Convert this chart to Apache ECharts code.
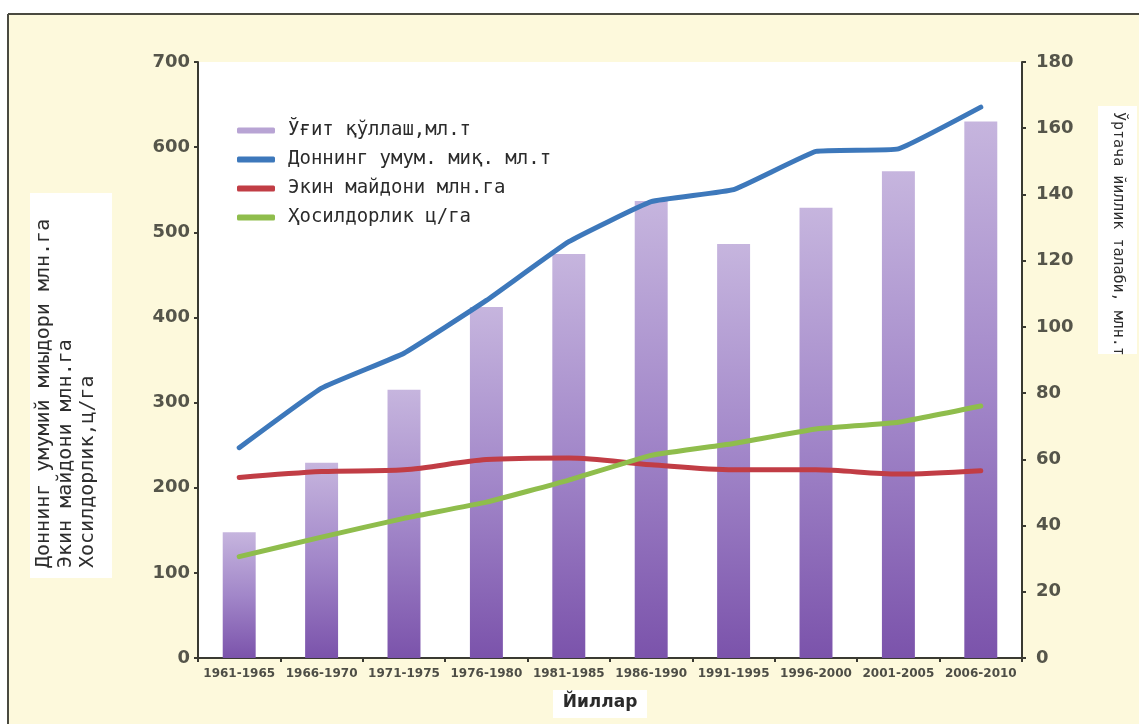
<!DOCTYPE html>
<html>
<head>
<meta charset="utf-8">
<style>
  html, body { margin: 0; padding: 0; background: #ffffff; }
  #chart { width: 1139px; height: 724px; }
</style>
<script src="https://cdn.jsdelivr.net/npm/echarts@6/dist/echarts.min.js"></script>
</head>
<body>
<div id="chart"></div>
<script>
// Five-year periods along the x axis
const categories = ['1961-1965', '1966-1970', '1971-1975', '1976-1980', '1981-1985',
                    '1986-1990', '1991-1995', '1996-2000', '2001-2005', '2006-2010'];

// Fertilizer use, mln t (right axis)
const fertilizerUse = [38, 59, 81, 106, 122, 138, 125, 136, 147, 162];
// Total grain, mln t (left axis)
const grainTotal = [247, 317, 358, 420, 489, 536, 550, 595, 598, 647];
// Sown area, mln ha (left axis)
const sownArea = [212, 219, 221, 233, 235, 227, 221, 221, 216, 220];
// Yield, c/ha (left axis)
const yieldPerHa = [119, 142, 164, 183, 209, 238, 252, 269, 277, 296];

const seriesNames = ['Ўғит қўллаш,мл.т', 'Доннинг умум. миқ. мл.т', 'Экин майдони млн.га', 'Ҳосилдорлик ц/га'];
const leftTitleLines = ['Доннинг умумий миыдори млн.га', 'Экин майдони млн.га', 'Хосилдорлик,ц/га'];
const rightTitle = 'Ўртача йиллик талаби, млн.т';
const xTitle = 'Йиллар';

const chart = echarts.init(document.getElementById('chart'), null, { renderer: 'canvas' });

const axisLabelFont = { fontFamily: 'DejaVu Sans', fontSize: 18, fontWeight: 'bold', color: '#55554a' };
const axisLineStyle = { show: true, lineStyle: { color: '#3a3a32', width: 2 } };

chart.setOption({
  backgroundColor: '#ffffff',
  animation: false,
  graphic: [
    // yellow panel with a dark frame on top and left
    { type: 'rect', z: -10, shape: { x: 8, y: 14, width: 1131, height: 710 },
      style: { fill: '#fdf9dc' } },
    { type: 'line', z: -9, shape: { x1: 8, y1: 14, x2: 1139, y2: 14 },
      style: { stroke: '#4a4a40', lineWidth: 2 } },
    { type: 'line', z: -9, shape: { x1: 8, y1: 14, x2: 8, y2: 724 },
      style: { stroke: '#4a4a40', lineWidth: 2 } },
    // left axis title box
    { type: 'rect', z: 5, shape: { x: 30, y: 193, width: 82, height: 385 },
      style: { fill: '#ffffff' } },
    { type: 'text', z: 6, x: 33, y: 568, rotation: Math.PI / 2,
      style: { text: leftTitleLines.join('\n'), fontFamily: 'DejaVu Sans Mono', fontSize: 20,
               lineHeight: 22, fill: '#2e2e2e', align: 'left', verticalAlign: 'top' } },
    // right axis title box
    { type: 'rect', z: 5, shape: { x: 1098, y: 106, width: 39, height: 248 },
      style: { fill: '#ffffff' } },
    { type: 'text', z: 6, x: 1118, y: 112, rotation: -Math.PI / 2,
      style: { text: rightTitle, fontFamily: 'DejaVu Sans Mono', fontSize: 15,
               fill: '#2e2e2e', align: 'left', verticalAlign: 'middle' } },
    // x axis title
    { type: 'rect', z: 5, shape: { x: 553, y: 690, width: 94, height: 28 },
      style: { fill: '#ffffff' } },
    { type: 'text', z: 6, x: 600, y: 703,
      style: { text: xTitle, fontFamily: 'DejaVu Sans', fontSize: 17, fontWeight: 'bold',
               fill: '#2a2a2a', align: 'center', verticalAlign: 'middle' } }
  ],
  grid: {
    left: 198, right: 117, top: 62, bottom: 66,
    show: true, backgroundColor: '#ffffff', borderWidth: 0
  },
  legend: {
    orient: 'vertical',
    left: 232, top: 116,
    itemWidth: 38, itemHeight: 6, itemGap: 10,
    icon: 'roundRect',
    textStyle: { fontFamily: 'DejaVu Sans Mono', fontSize: 19, color: '#2b2b2b', padding: [0, 0, 0, 8] },
    data: [
      { name: seriesNames[0], itemStyle: { color: '#b8a4d4' } },
      { name: seriesNames[1], itemStyle: { color: '#3d78bb' } },
      { name: seriesNames[2], itemStyle: { color: '#c13d45' } },
      { name: seriesNames[3], itemStyle: { color: '#8fbd4c' } }
    ]
  },
  xAxis: {
    type: 'category',
    data: categories,
    boundaryGap: true,
    axisLine: axisLineStyle,
    axisTick: { show: true, length: 4, lineStyle: { color: '#3a3a32', width: 2 } },
    axisLabel: { fontFamily: 'DejaVu Sans', fontSize: 12, fontWeight: 'bold', color: '#4e4e46', margin: 10, interval: 0 },
    splitLine: { show: false }
  },
  yAxis: [
    {
      type: 'value', min: 0, max: 700, interval: 100, position: 'left',
      axisLine: axisLineStyle,
      axisTick: { show: true, length: 4, lineStyle: { color: '#3a3a32', width: 2 } },
      axisLabel: Object.assign({ margin: 8 }, axisLabelFont),
      splitLine: { show: false }
    },
    {
      type: 'value', min: 0, max: 180, interval: 20, position: 'right',
      axisLine: axisLineStyle,
      axisTick: { show: true, length: 4, lineStyle: { color: '#3a3a32', width: 2 } },
      axisLabel: Object.assign({ margin: 14 }, axisLabelFont),
      splitLine: { show: false }
    }
  ],
  series: [
    {
      name: seriesNames[0], type: 'bar', yAxisIndex: 1, barWidth: '40%',
      data: fertilizerUse,
      itemStyle: {
        color: new echarts.graphic.LinearGradient(0, 0, 0, 1, [
          { offset: 0, color: '#c6b5de' },
          { offset: 0.5, color: '#a287c9' },
          { offset: 1, color: '#7b53ab' }
        ])
      },
      z: 2
    },
    {
      name: seriesNames[1], type: 'line', yAxisIndex: 0, data: grainTotal,
      symbol: 'none', smooth: 0.1,
      lineStyle: { color: '#3d78bb', width: 5, cap: 'round', join: 'round' },
      itemStyle: { color: '#3d78bb' }, z: 4
    },
    {
      name: seriesNames[2], type: 'line', yAxisIndex: 0, data: sownArea,
      symbol: 'none', smooth: 0.3,
      lineStyle: { color: '#c13d45', width: 5, cap: 'round', join: 'round' },
      itemStyle: { color: '#c13d45' }, z: 3
    },
    {
      name: seriesNames[3], type: 'line', yAxisIndex: 0, data: yieldPerHa,
      symbol: 'none', smooth: 0.1,
      lineStyle: { color: '#8fbd4c', width: 5, cap: 'round', join: 'round' },
      itemStyle: { color: '#8fbd4c' }, z: 4
    }
  ]
});
</script>
</body>
</html>
